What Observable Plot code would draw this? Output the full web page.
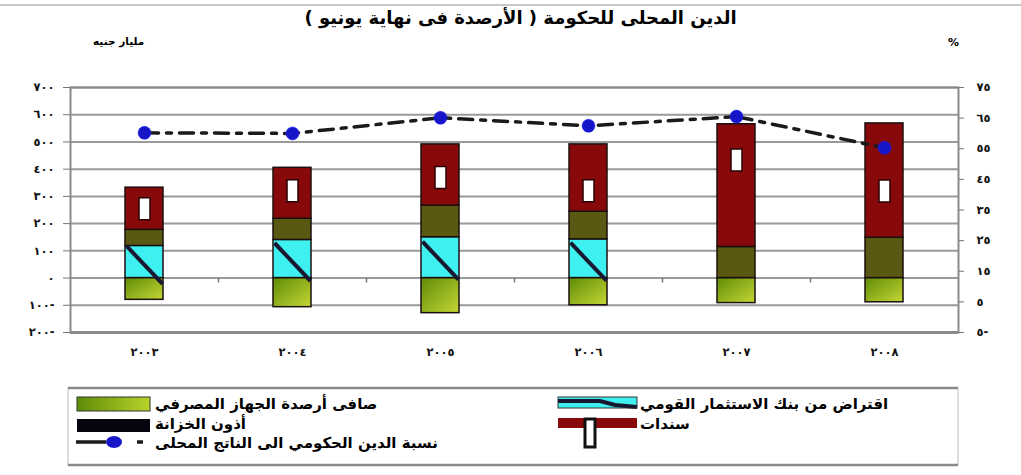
<!DOCTYPE html>
<html><head><meta charset="utf-8">
<script src="https://cdn.jsdelivr.net/npm/d3@7"></script>
<script src="https://cdn.jsdelivr.net/npm/@observablehq/plot@0.6"></script>
<style>
html,body{margin:0;padding:0;background:#fff;}
body{width:1021px;height:475px;overflow:hidden;position:relative;font-family:"DejaVu Sans",sans-serif;}
#topline{position:absolute;left:0;top:4px;width:1021px;height:2px;background:#c8c8c8;}
#title{position:absolute;left:0;width:1021px;top:7px;text-align:center;font-weight:bold;font-size:18px;direction:rtl;}
#title span{display:inline-block;transform:translateX(10px);}
#unitL{position:absolute;left:93px;top:35px;font-size:10.5px;font-weight:bold;direction:rtl;}
#unitR{position:absolute;left:948px;top:36px;font-size:11px;font-weight:bold;}
#chart{position:absolute;left:0;top:0;}
#legend{position:absolute;left:0;top:380px;}
</style></head><body>
<div id="topline"></div>
<div id="title"><span>الدين المحلى للحكومة ( الأرصدة فى نهاية يونيو )</span></div>
<div id="unitL">مليار جنيه</div>
<div id="unitR">%</div>
<div id="chart"></div>
<div id="legend"></div>
<script>
// ---- data ----
const years = ["2003", "2004", "2005", "2006", "2007", "2008"];
const yearLabels = ["٢٠٠٣", "٢٠٠٤", "٢٠٠٥", "٢٠٠٦", "٢٠٠٧", "٢٠٠٨"];
const bankingNet = [-80, -107, -129, -100, -92, -89];      // صافى أرصدة الجهاز المصرفي
const nibBorrowing = [118, 140, 150, 142, 0, 0];           // اقتراض من بنك الاستثمار القومي
const treasuryBills = [59, 78, 116, 102, 114, 148];        // أذون الخزانة
const bonds = [155, 187, 225, 247, 451, 420];              // سندات
const bondMarker = [255, 321, 369, 321, 434, 320];         // white marker inside bonds segment
const debtToGdp = [60.2, 60, 65.1, 62.5, 65.5, 55.3];      // نسبة الدين الحكومي الى الناتج المحلى (%)
const leftTicks = [-200, -100, 0, 100, 200, 300, 400, 500, 600, 700];
const rightTicks = [-5, 5, 15, 25, 35, 45, 55, 65, 75];

const seriesNames = ["banking", "nib", "tbills", "bonds"];
const seriesLabels = ["صافى أرصدة الجهاز المصرفي", "اقتراض من بنك الاستثمار القومي", "أذون الخزانة", "سندات"];
const lineLabel = "نسبة الدين الحكومي الى الناتج المحلى";

// ---- helpers ----
const arDigits = "٠١٢٣٤٥٦٧٨٩";
const toAr = n => String(Math.abs(n)).replace(/\d/g, d => arDigits[d]) + (n < 0 ? "-" : "");
const r2l = v => -200 + (v + 5) * 900 / 80;   // right axis (%) -> left axis units
const l2r = v => (v + 200) * 80 / 900 - 5;

const cols = {banking: bankingNet, nib: nibBorrowing, tbills: treasuryBills, bonds: bonds};
const table = years.flatMap((yr, i) => seriesNames.map(s => ({year: yr, series: s, value: cols[s][i]}))).filter(d => d.value !== 0);
const markers = years.map((yr, i) => ({year: yr, value: bondMarker[i]}));
const slashes = years.map((yr, i) => ({year: yr, value: nibBorrowing[i] / 2})).filter((d, i) => nibBorrowing[i] > 0);
const ratio = years.map((yr, i) => ({year: yr, value: r2l(debtToGdp[i])}));

const colors = {banking: "url(#gGrad)", nib: "#3ef0f0", tbills: "#5a5912", bonds: "#870909"};

const rectSymbol = {draw(ctx) { ctx.rect(-5.5, -11, 11, 22); }};
const slashSymbol = {draw(ctx) { ctx.moveTo(-18, -19); ctx.lineTo(18, 19); }};

const svg = Plot.plot({
  width: 1021,
  height: 375,
  marginLeft: 70,
  marginRight: 63,
  marginTop: 87,
  marginBottom: 43,
  style: {fontFamily: "DejaVu Sans, sans-serif", background: "transparent", color: "#111"},
  x: {domain: years, paddingInner: 0.743, paddingOuter: 0.3715, label: null},
  y: {domain: [-200, 700], label: null},
  color: {domain: seriesNames, range: seriesNames.map(s => colors[s])},
  marks: [
    Plot.gridY({ticks: leftTicks, stroke: "#9a9a9a", strokeOpacity: 1, strokeWidth: 2}),
    Plot.frame({stroke: "#8a8a8a", strokeWidth: 2}),
    Plot.ruleY([-200], {stroke: "#8a8a8a", strokeWidth: 3}),
    Plot.ruleX(years.slice(0, -1), {x: d => d, y1: 0, y2: -18, dx: 74, stroke: "#777", strokeWidth: 1.5}),
    Plot.axisY({ticks: leftTicks, tickFormat: toAr, tickSize: 7, tickPadding: 9, fontSize: 11.5, fontWeight: "bold", label: null, stroke: "#777"}),
    Plot.axisY({anchor: "right", ticks: rightTicks.map(r2l), tickFormat: v => toAr(Math.round(l2r(v))), tickSize: 5, tickPadding: 13, fontSize: 11.5, fontWeight: "bold", label: null, stroke: "#777"}),
    Plot.axisX({tickSize: 0, tickPadding: 15, tickFormat: d => yearLabels[years.indexOf(d)], fontSize: 11.5, fontWeight: "bold", label: null}),
    Plot.barY(table, {x: "year", y: "value", fill: "series", order: ["nib", "tbills", "bonds", "banking"], stroke: "#1b1010", strokeWidth: 1.5}),
    Plot.dot(slashes, {x: "year", y: "value", symbol: slashSymbol, fill: "none", stroke: "#1a1830", strokeWidth: 4, dy: 3}),
    Plot.dot(markers, {x: "year", y: "value", symbol: rectSymbol, fill: "#fff", stroke: "#2a0000", strokeWidth: 1.5}),
    Plot.line(ratio, {x: "year", y: "value", stroke: "#1a1a1a", strokeWidth: 3.5, strokeDasharray: "14,8,5,8"}),
    Plot.dot(ratio, {x: "year", y: "value", r: 6.5, fill: "#1616c8", stroke: "#2020ff", strokeWidth: 0.5})
  ]
});

// gradient for the green series
const ns = "http://www.w3.org/2000/svg";
const defs = document.createElementNS(ns, "defs");
defs.innerHTML = `<linearGradient id="gGrad" x1="0" y1="0" x2="1" y2="1">
  <stop offset="0" stop-color="#5f8c08"/><stop offset="1" stop-color="#c4d634"/></linearGradient>
  <linearGradient id="gGradL" x1="0" y1="0" x2="1" y2="0">
  <stop offset="0" stop-color="#5f8c08"/><stop offset="1" stop-color="#b8d42a"/></linearGradient>`;
svg.insertBefore(defs, svg.firstChild);
document.getElementById("chart").appendChild(svg);

// ---- legend ----
const L = d3.select("#legend").append("svg").attr("width", 1021).attr("height", 95)
  .style("font-family", "DejaVu Sans, sans-serif");
L.append("rect").attr("x", 68).attr("y", 8).attr("width", 890).attr("height", 77)
  .attr("fill", "none").attr("stroke", "#bdbdbd").attr("stroke-width", 1);
L.append("line").attr("x1", 68).attr("x2", 958).attr("y1", 8).attr("y2", 8).attr("stroke", "#8a8a8a").attr("stroke-width", 2.5);
L.append("line").attr("x1", 68).attr("x2", 958).attr("y1", 85).attr("y2", 85).attr("stroke", "#8a8a8a").attr("stroke-width", 2.5);
// left column
L.append("rect").attr("x", 77).attr("y", 17).attr("width", 73).attr("height", 14).attr("fill", "url(#gGradL)").attr("stroke", "#333");
L.append("rect").attr("x", 77).attr("y", 39).attr("width", 73).attr("height", 13).attr("fill", "#050510");
L.append("line").attr("x1", 76).attr("x2", 106).attr("y1", 62).attr("y2", 62).attr("stroke", "#1a1a1a").attr("stroke-width", 3.5);
L.append("ellipse").attr("cx", 114).attr("cy", 62).attr("rx", 8).attr("ry", 6).attr("fill", "#1616c8");
L.append("line").attr("x1", 137).attr("x2", 143).attr("y1", 62).attr("y2", 62).attr("stroke", "#1a1a1a").attr("stroke-width", 3.5);
// right column
L.append("rect").attr("x", 558).attr("y", 17).attr("width", 79).attr("height", 11).attr("fill", "#3ef0f0").attr("stroke", "#333");
L.append("path").attr("d", "M558,21 L600,21 L615,25 L637,27").attr("fill", "none").attr("stroke", "#1a1830").attr("stroke-width", 4);
L.append("rect").attr("x", 558).attr("y", 38).attr("width", 79).attr("height", 10).attr("fill", "#870909");
L.append("rect").attr("x", 585).attr("y", 39).attr("width", 10).attr("height", 28).attr("fill", "#fff").attr("stroke", "#111").attr("stroke-width", 3);
const legText = [
  [155, 24, seriesLabels[0]], [155, 44, seriesLabels[2]], [155, 63, lineLabel],
  [640, 24, seriesLabels[1]], [640, 44, seriesLabels[3]]
];
legText.forEach(([x, y, t]) => L.append("text").attr("x", x).attr("y", y).attr("direction", "rtl")
  .attr("text-anchor", "end").attr("font-size", 15).attr("font-weight", "bold").attr("dominant-baseline", "middle").text(t));
</script>
</body></html>
